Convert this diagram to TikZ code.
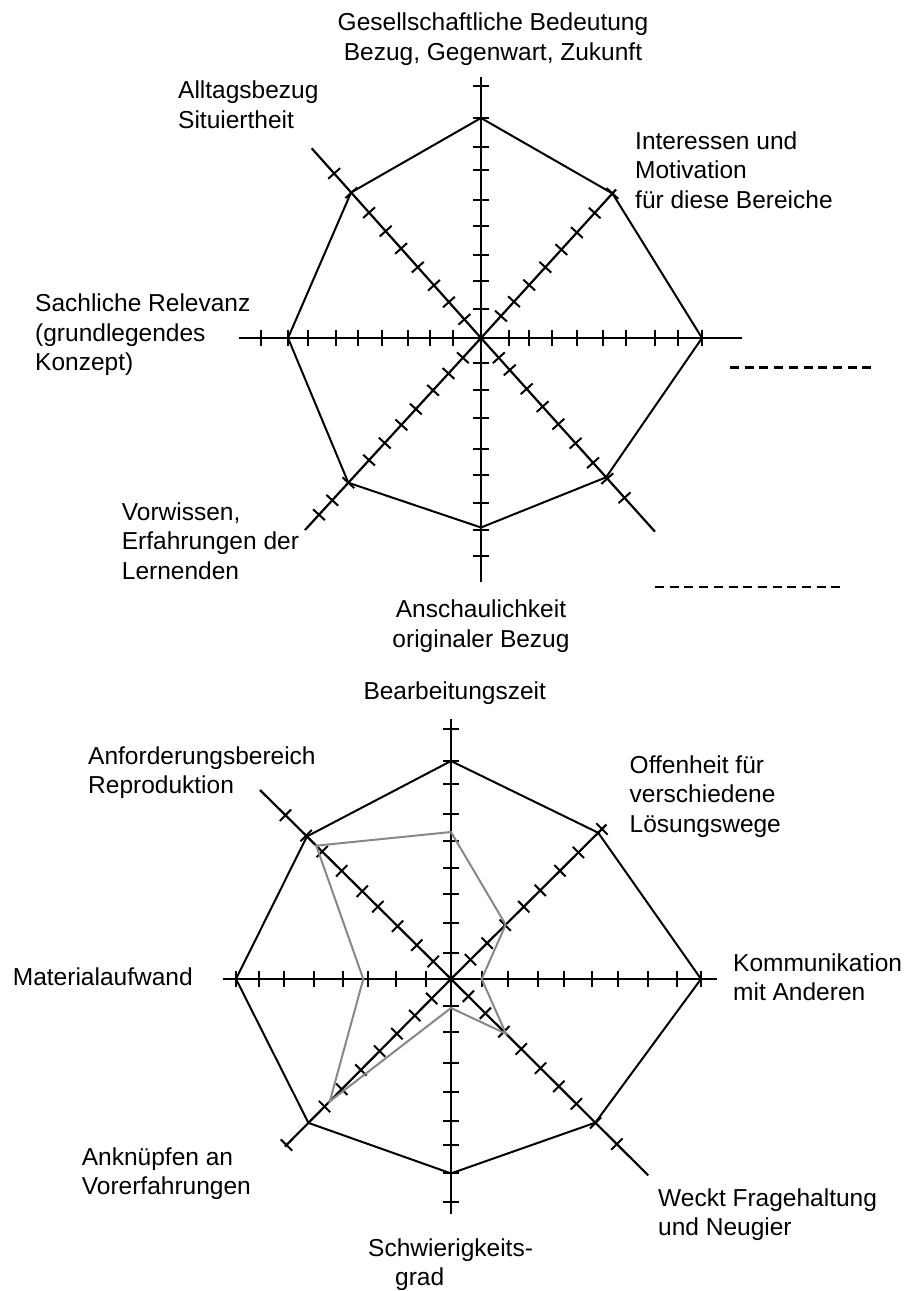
\documentclass[tikz,border=0pt]{standalone}
\usepackage{fontspec}
\setmainfont{Liberation Sans}
\usetikzlibrary{calc}
\definecolor{profilegrey}{RGB}{135,135,135}
\tikzset{
  axisline/.style={line width=2.2pt},
  tickmark/.style={line width=2pt},
  outline/.style={line width=2pt, line join=miter},
  profile/.style={line width=2pt, draw=profilegrey, line join=miter},
  % labels are placed by the baseline of their last line
  lbl/.style={inner sep=0pt, font=\fontsize{24.5}{29.5}\selectfont, align=left, anchor=base west},
  clbl/.style={lbl, align=center, anchor=base},
  guide/.style={line width=2.4pt, dash pattern=on 9pt off 5.7pt},
}
% perpendicular tick marks on the axis from #1 to #2, at the points listed in #3 (x/y)
\newcommand\ticksalong[3]{%
  \foreach \tx/\ty in {#3}{
    \coordinate (tk) at ($(#1)!(\tx,\ty)!(#2)$);
    \draw[tickmark] ($(tk)!8pt!90:(#1)$) -- ($(tk)!8pt!-90:(#1)$);
  }}
\begin{document}
\begin{tikzpicture}[x=1pt, y=-1pt]
\useasboundingbox (0,0) rectangle (906,1291);

% ---------------- upper profile ----------------
\coordinate (tc) at (481,338);
\coordinate (tN) at (481,77);
\coordinate (tS) at (481,582);
\coordinate (tW) at (239,338);
\coordinate (tE) at (742,338);
\coordinate (tNW) at (311.7,148.3);
\coordinate (tNE) at (616,189.5);
\coordinate (tSE) at (655,531.7);
\coordinate (tSW) at (305,530);

\foreach \e in {tN,tS,tW,tE,tNW,tNE,tSE,tSW} \draw[axisline] (tc) -- (\e);

\ticksalong{tc}{tN}{481/86,481/118,481/147,481/170,481/200,481/226,481/255,481/281,481/309}
\ticksalong{tc}{tS}{481/363,481/390,481/418,481/449,481/475,481/503,481/530,481/556}
\ticksalong{tc}{tW}{261/338,288/338,308/338,336/338,358/338,382/338,408/338,430/338,453/338}
\ticksalong{tc}{tE}{509/338,529/338,552/338,577/338,603/338,626/338,655/338,678/338,702/338}
\ticksalong{tc}{tNW}{466.7/317.3,449.3/301.7,434.3/285,418.3/266.7,401.3/248.3,385/231.7,368.3/213.3,350.7/193.3,334.3/173.3}
\ticksalong{tc}{tNE}{501.7/316.7,514/301.7,527.3/283.3,544/266,560/248.3,576/231.7,593.3/211.7,612.3/193.3}
\ticksalong{tc}{tSE}{500/356.7,511.7/368.3,527.3/388.3,543.3/406,559.3/423.3,577.3/441.7,594.3/461.7,608.3/477.7,625.7/496.7}
\ticksalong{tc}{tSW}{461.7/356.7,448.3/373.3,432.7/390,415/408.3,400.7/424.3,385/443.3,370/461,348.3/482.7,332.7/500.7,320/515.7}

\coordinate (tp1) at ($(tc)!(481,118)!(tN)$);
\coordinate (tp2) at ($(tc)!(612.3,193.3)!(tNE)$);
\coordinate (tp3) at ($(tc)!(702,338)!(tE)$);
\coordinate (tp4) at ($(tc)!(607,476.5)!(tSE)$);
\coordinate (tp5) at ($(tc)!(481,527.5)!(tS)$);
\coordinate (tp6) at ($(tc)!(347.5,482)!(tSW)$);
\coordinate (tp7) at ($(tc)!(288,338)!(tW)$);
\coordinate (tp8) at ($(tc)!(351,192.5)!(tNW)$);
\draw[outline] (tp1) -- (tp2) -- (tp3) -- (tp4) -- (tp5) -- (tp6) -- (tp7) -- (tp8) -- cycle;

\node[clbl] (tlN) at (493,60) {Gesellschaftliche Bedeutung\\Bezug, Gegenwart, Zukunft};
\node[lbl] (tlNW) at (178,128.3) {Alltagsbezug\\Situiertheit};
\node[lbl] (tlNE) at (635,208.3) {Interessen und\\Motivation\\für diese Bereiche};
\node[lbl] (tlW) at (35,370.7) {Sachliche Relevanz\\(grundlegendes\\Konzept)};
\node[lbl] (tlSW) at (121.7,579) {Vorwissen,\\Erfahrungen der\\Lernenden};
\node[clbl] (tlS) at (481,647) {Anschaulichkeit\\originaler Bezug};

\coordinate (d1a) at (730,367.3);
\coordinate (d1b) at (872.7,367.3);
\coordinate (d2a) at (655,587);
\coordinate (d2b) at (840.5,587);
\draw[guide] (d1a) -- (d1b);
\draw[guide] (d2a) -- (d2b);

% ---------------- lower profile ----------------
\coordinate (bc) at (451,979);
\coordinate (bN) at (451,718.5);
\coordinate (bS) at (451,1214);
\coordinate (bW) at (222.7,979);
\coordinate (bE) at (716.7,979);
\coordinate (bNW) at (260,790);
\coordinate (bNE) at (606.5,824.5);
\coordinate (bSE) at (648.3,1175.4);
\coordinate (bSW) at (285,1146.5);

\foreach \e in {bN,bS,bW,bE,bNW,bNE,bSE,bSW} \draw[axisline] (bc) -- (\e);

\ticksalong{bc}{bN}{451/728.5,451/760.8,451/784.2,451/813.8,451/840.8,451/867.7,451/893.8,451/922.7,451/953}
\ticksalong{bc}{bS}{451/1006,451/1032.3,451/1063,451/1091.5,451/1120.8,451/1144.6,451/1173.4,451/1202.3}
\ticksalong{bc}{bW}{236/979,259.3/979,284/979,314/979,342.7/979,368.3/979,396/979,426/979}
\ticksalong{bc}{bE}{481.7/979,507.7/979,537.7/979,564.3/979,591.7/979,618.3/979,648.3/979,676.7/979,700.7/979}
\ticksalong{bc}{bNW}{432.7/962,417.3/944.6,398.3/925.4,378.3/906.2,362.7/890.8,341.7/870.8,323.3/850.4,306.7/835,286/814.6}
\ticksalong{bc}{bNE}{470/959.2,486.7/942.7,505/925,523.3/906.2,540.7/890.8,560/870.8,578.3/852.3,602/829}
\ticksalong{bc}{bSE}{470/994.6,486.7/1011.9,503.3/1032.3,521.7/1048.5,540/1068.8,558.3/1086.9,576/1104.2,595/1123.4,618.3/1142.7}
\ticksalong{bc}{bSW}{431.7/998.5,415/1015.8,398.3/1035,380/1051.5,361.7/1070.8,343.3/1090.8,325/1107,286/1144.6}

\coordinate (bp1) at ($(bc)!(451,761)!(bN)$);
\coordinate (bp2) at ($(bc)!(598.5,833)!(bNE)$);
\coordinate (bp3) at ($(bc)!(701,979)!(bE)$);
\coordinate (bp4) at ($(bc)!(595,1123)!(bSE)$);
\coordinate (bp5) at ($(bc)!(451,1173.4)!(bS)$);
\coordinate (bp6) at ($(bc)!(307,1121.5)!(bSW)$);
\coordinate (bp7) at ($(bc)!(236,979)!(bW)$);
\coordinate (bp8) at ($(bc)!(307.3,836)!(bNW)$);
\draw[outline] (bp1) -- (bp2) -- (bp3) -- (bp4) -- (bp5) -- (bp6) -- (bp7) -- (bp8) -- cycle;

\coordinate (bg1) at ($(bc)!(451,832)!(bN)$);
\coordinate (bg2) at ($(bc)!(506,925)!(bNE)$);
\coordinate (bg3) at ($(bc)!(481.7,979)!(bE)$);
\coordinate (bg4) at ($(bc)!(508.3,1031.5)!(bSE)$);
\coordinate (bg5) at ($(bc)!(451,1008)!(bS)$);
\coordinate (bg6) at ($(bc)!(327.5,1099)!(bSW)$);
\coordinate (bg7) at ($(bc)!(363.3,979)!(bW)$);
\coordinate (bg8) at ($(bc)!(317.3,844.6)!(bNW)$);
\draw[profile] (bg1) -- (bg2) -- (bg3) -- (bg4) -- (bg5) -- (bg6) -- (bg7) -- (bg8) -- cycle;

\node[lbl] (blN) at (363.3,699) {Bearbeitungszeit};
\node[lbl] (blNW) at (88,793.5) {Anforderungsbereich\\Reproduktion};
\node[lbl] (blNE) at (629.5,832) {Offenheit für\\verschiedene\\Lösungswege};
\node[lbl] (blE) at (733,1000.5) {Kommunikation\\mit Anderen};
\node[lbl] (blW) at (12.7,985) {Materialaufwand};
\node[lbl] (blSW) at (81.7,1194.5) {Anknüpfen an\\Vorerfahrungen};
\node[lbl] (blSE) at (658,1235.5) {Weckt Fragehaltung\\und Neugier};
\node[lbl] (blS) at (368,1285.5) {Schwierigkeits-\\\hspace*{27pt}grad};
\end{tikzpicture}
\end{document}
